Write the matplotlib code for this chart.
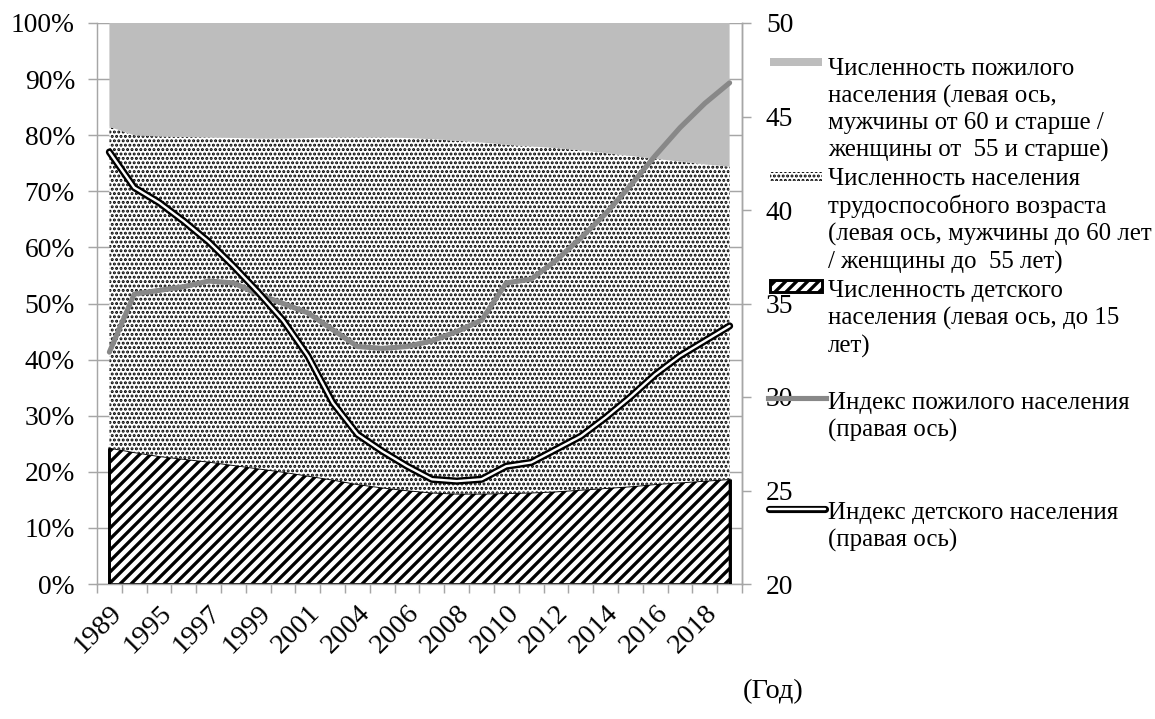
import numpy as np
import matplotlib
matplotlib.use("Agg")
import matplotlib.pyplot as plt
from matplotlib.lines import Line2D
from matplotlib.patches import Rectangle

plt.rcParams['font.family'] = ['Liberation Serif', 'DejaVu Serif']
plt.rcParams['hatch.linewidth'] = 1.6

# categories (every second one is labelled on the axis)
years = ['1989', '1994', '1995', '1996', '1997', '1998', '1999', '2000', '2001', '2002',
         '2004', '2005', '2006', '2007', '2008', '2009', '2010', '2011', '2012', '2013',
         '2014', '2015', '2016', '2017', '2018', '2019']

# shares of population, %
child_share = [24.3, 23.5, 22.8, 22.3, 21.8, 21.2, 20.6, 20.0, 19.3, 18.6,
               17.8, 17.2, 16.7, 16.3, 16.1, 16.1, 16.2, 16.3, 16.5, 16.8,
               17.1, 17.4, 17.8, 18.1, 18.4, 18.7]
working_share = [57.2, 56.5, 57.0, 57.4, 57.8, 58.3, 58.8, 59.4, 60.2, 61.0,
                 61.8, 62.4, 62.8, 63.0, 62.9, 62.6, 62.1, 61.7, 61.2, 60.5,
                 59.7, 58.9, 58.0, 57.2, 56.4, 55.7]
elderly_share = [18.5, 20.0, 20.2, 20.3, 20.4, 20.5, 20.6, 20.6, 20.5, 20.4,
                 20.4, 20.4, 20.5, 20.7, 21.0, 21.3, 21.7, 22.0, 22.3, 22.7,
                 23.2, 23.7, 24.2, 24.7, 25.2, 25.6]

# indices, right axis
elderly_index = [32.4, 35.5, 35.7, 35.9, 36.2, 36.1, 35.5, 35.0, 34.5, 33.6,
                 32.7, 32.6, 32.7, 33.0, 33.5, 34.1, 36.1, 36.3, 37.3, 38.5,
                 39.8, 41.3, 42.9, 44.4, 45.7, 46.8]
child_index = [43.1, 41.2, 40.4, 39.4, 38.3, 37.0, 35.6, 34.1, 32.2, 29.7,
               28.0, 27.1, 26.3, 25.6, 25.5, 25.6, 26.3, 26.5, 27.2, 27.9,
               28.9, 30.0, 31.2, 32.2, 33.0, 33.8]

legend_labels = [
    "Численность пожилого\nнаселения (левая ось,\nмужчины от 60 и старше /\nженщины от  55 и старше)",
    "Численность населения\nтрудоспособного возраста\n(левая ось, мужчины до 60 лет\n/ женщины до  55 лет)",
    "Численность детского\nнаселения (левая ось, до 15\nлет)",
    "Индекс пожилого населения\n(правая ось)",
    "Индекс детского населения\n(правая ось)",
]


def hatch_lw(artist, lw):
    if hasattr(artist, 'set_hatch_linewidth'):
        artist.set_hatch_linewidth(lw)


x = np.arange(len(years))
child = np.array(child_share)
work = child + np.array(working_share)
top = work + np.array(elderly_share)

fig = plt.figure(figsize=(1155 / 132, 719 / 132), dpi=132)
ax = fig.add_axes([97 / 1155, 1 - 584 / 719, 645 / 1155, 561 / 719])
ax2 = ax.twinx()

axis_gray = '#a6a6a6'
dots = '.....'
stripes = '////'

ax.set_axisbelow(True)
ax.yaxis.grid(True, color=axis_gray, lw=0.8)

a_child = ax.fill_between(x, 0, child, facecolor='white', edgecolor='black',
                          hatch=stripes, lw=1.0, zorder=2)
hatch_lw(a_child, 1.8)
a_work = ax.fill_between(x, child, work, facecolor='white', edgecolor='black',
                         hatch=dots, lw=0, zorder=2)
hatch_lw(a_work, 1.1)
a_old = ax.fill_between(x, work, top, facecolor='#bdbdbd', edgecolor='none', lw=0, zorder=2)

# left/right sides of child area are drawn thicker in the original
ax.vlines([x[0], x[-1]], 0, [child[0], child[-1]], color='black', lw=1.6, zorder=3)

ax2.plot(x, elderly_index, color='#888888', lw=2.8, solid_capstyle='round',
         solid_joinstyle='round', zorder=3)
ax2.plot(x, child_index, color='black', lw=3.9, solid_capstyle='round',
         solid_joinstyle='round', zorder=4)
ax2.plot(x, child_index, color='white', lw=1.3, solid_capstyle='round',
         solid_joinstyle='round', zorder=5)

ax.set_xlim(-0.5, len(years) - 0.5)
ax.set_ylim(0, 100)
ax2.set_ylim(20, 50)

ax.set_yticks(np.arange(0, 101, 10))
ax.set_yticklabels([f"{v}%" for v in range(0, 101, 10)], fontsize=15)
ax2.set_yticks(np.arange(20, 51, 5))
ax2.set_yticklabels([str(v) for v in range(20, 51, 5)], fontsize=15)

ax.set_xticks(np.arange(-0.5, len(years), 1))
ax.set_xticklabels([])
ax.set_xticks(x[::2], minor=True)
ax.set_xticklabels(years[::2], minor=True, rotation=45, ha='right',
                   rotation_mode='anchor', fontsize=15.5)

ax.tick_params(axis='x', which='major', direction='out', length=5, color=axis_gray)
ax.tick_params(axis='x', which='minor', length=0, pad=9)
ax.tick_params(axis='y', direction='out', length=5, color=axis_gray, pad=7)
ax2.tick_params(axis='y', direction='out', length=5, color=axis_gray, pad=8)

for a in (ax, ax2):
    a.spines['top'].set_visible(False)
    for s in ('left', 'right', 'bottom'):
        a.spines[s].set_color(axis_gray)
ax2.spines['left'].set_visible(False)
ax2.spines['bottom'].set_visible(False)

# legend drawn to the right of the plot, as in the original
W, H = 1155, 719
tx = 828 / W
line_y = [68, 178, 290, 402, 512]
for lab, yy in zip(legend_labels, line_y):
    fig.text(tx, 1 - (yy - 10) / H, lab, fontsize=13.6, va='top', ha='left',
             linespacing=1.27)

fig.add_artist(Rectangle((770 / W, 1 - 66 / H), 52 / W, 8 / H, transform=fig.transFigure,
                         facecolor='#bdbdbd', edgecolor='none'))
p = fig.add_artist(Rectangle((770 / W, 1 - 181 / H), 52 / W, 9 / H, transform=fig.transFigure,
                             facecolor='white', edgecolor='black', lw=0, hatch=dots))
hatch_lw(p, 1.1)
p = fig.add_artist(Rectangle((770 / W, 1 - 292 / H), 52 / W, 12 / H, transform=fig.transFigure,
                             facecolor='white', edgecolor='black', lw=1.6, hatch=stripes))
hatch_lw(p, 1.8)
fig.add_artist(Line2D([768 / W, 826 / W], [1 - 398 / H] * 2, transform=fig.transFigure,
                      color='#888888', lw=2.8))
fig.add_artist(Line2D([769 / W, 825 / W], [1 - 509 / H] * 2, transform=fig.transFigure,
                      color='black', lw=3.9, solid_capstyle='round'))
fig.add_artist(Line2D([769 / W, 825 / W], [1 - 509 / H] * 2, transform=fig.transFigure,
                      color='white', lw=1.3, solid_capstyle='round'))

fig.text(773 / W, 1 - 692 / H, "(Год)", fontsize=15.5, ha='center', va='center')

fig.savefig('out.png', dpi=132)
